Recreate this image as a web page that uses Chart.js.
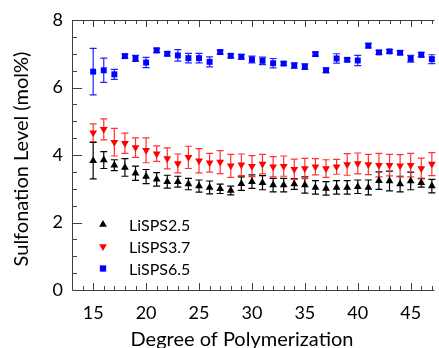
<!DOCTYPE html>
<html>
<head>
<meta charset="utf-8">
<script src="https://cdn.jsdelivr.net/npm/chart.js@4.4.0/dist/chart.umd.min.js"></script>
<style>
  html, body { margin: 0; padding: 0; background: #fff; }
  #wrap { width: 439px; height: 348px; }
</style>
</head>
<body>
<div id="wrap"><canvas id="chart" width="439" height="348"></canvas></div>
<script>
// degree of polymerization
const dp = [15, 16, 17, 18, 19, 20, 21, 22, 23, 24, 25, 26, 27, 28, 29, 30, 31,
            32, 33, 34, 35, 36, 37, 38, 39, 40, 41, 42, 43, 44, 45, 46, 47];

// sulfonation level (mol%) and error
const sps25 = [3.83, 3.85, 3.70, 3.63, 3.46, 3.36, 3.28, 3.21, 3.21, 3.14, 3.08, 3.04, 3.00, 2.95, 3.15,
               3.21, 3.18, 3.11, 3.11, 3.14, 3.11, 3.04, 3.01, 3.04, 3.04, 3.06, 3.04, 3.24, 3.23, 3.14, 3.23, 3.18, 3.08];
const sps25Err = [0.54, 0.25, 0.16, 0.26, 0.21, 0.21, 0.20, 0.19, 0.16, 0.17, 0.18, 0.19, 0.14, 0.13, 0.20,
                  0.20, 0.21, 0.20, 0.20, 0.16, 0.24, 0.20, 0.20, 0.20, 0.20, 0.20, 0.22, 0.26, 0.29, 0.23, 0.26, 0.13, 0.20];

const sps37 = [4.66, 4.76, 4.38, 4.35, 4.22, 4.14, 4.04, 3.90, 3.75, 3.93, 3.83, 3.77, 3.79, 3.68, 3.71,
               3.67, 3.73, 3.65, 3.67, 3.58, 3.60, 3.65, 3.60, 3.65, 3.72, 3.75, 3.72, 3.70, 3.70, 3.68, 3.70, 3.60, 3.73];
const sps37Err = [0.26, 0.31, 0.41, 0.30, 0.29, 0.37, 0.23, 0.31, 0.28, 0.33, 0.36, 0.28, 0.34, 0.34, 0.32,
                  0.31, 0.29, 0.30, 0.30, 0.30, 0.30, 0.24, 0.26, 0.22, 0.32, 0.31, 0.30, 0.35, 0.32, 0.33, 0.35, 0.31, 0.34];

const sps65 = [6.47, 6.51, 6.39, 6.93, 6.86, 6.74, 7.10, 7.00, 6.95, 6.87, 6.87, 6.76, 7.05, 6.94, 6.91,
               6.83, 6.79, 6.72, 6.71, 6.65, 6.62, 6.99, 6.51, 6.86, 6.82, 6.80, 7.24, 7.04, 7.07, 7.03, 6.85, 6.97, 6.84];
const sps65Err = [0.69, 0.36, 0.15, 0.06, 0.09, 0.15, 0.065, 0.06, 0.17, 0.14, 0.14, 0.15, 0.06, 0.06, 0.07,
                  0.10, 0.11, 0.14, 0.05, 0.08, 0.08, 0.06, 0.07, 0.14, 0.05, 0.15, 0.07, 0.06, 0.05, 0.06, 0.10, 0.07, 0.13];

const xTicks = [15, 20, 25, 30, 35, 40, 45];
const yTicks = [0, 2, 4, 6, 8];
const xTitle = 'Degree of Polymerization';
const yTitle = 'Sulfonation Level (mol%)';

const FONT = 'Lato, "Open Sans", sans-serif';
const AXIS = '#404040';

function pts(ys, errs) {
  return dp.map((x, i) => ({ x: x, y: ys[i], err: errs[i] }));
}

function marker(ctx, style, x, y, r) {
  ctx.beginPath();
  if (style === 'up') {
    ctx.moveTo(x, y - r);
    ctx.lineTo(x + r * 0.866, y + r * 0.5);
    ctx.lineTo(x - r * 0.866, y + r * 0.5);
  } else if (style === 'down') {
    ctx.moveTo(x, y + r);
    ctx.lineTo(x + r * 0.866, y - r * 0.5);
    ctx.lineTo(x - r * 0.866, y - r * 0.5);
  } else {
    ctx.rect(x - r * 0.7, y - r * 0.7, r * 1.4, r * 1.4);
  }
  ctx.closePath();
  ctx.fill();
}

const errorBars = {
  id: 'errorBars',
  beforeDatasetsDraw(chart) {
    const ctx = chart.ctx;
    const xs = chart.scales.x, ys = chart.scales.y;
    ctx.save();
    chart.data.datasets.forEach(ds => {
      ctx.strokeStyle = ds.barColor;
      ctx.lineWidth = 1.2;
      ds.data.forEach(p => {
        const px = xs.getPixelForValue(p.x);
        const top = ys.getPixelForValue(p.y + p.err);
        const bot = ys.getPixelForValue(p.y - p.err);
        ctx.beginPath();
        ctx.moveTo(px, top); ctx.lineTo(px, bot);
        ctx.moveTo(px - 3.5, top); ctx.lineTo(px + 3.5, top);
        ctx.moveTo(px - 3.5, bot); ctx.lineTo(px + 3.5, bot);
        ctx.stroke();
      });
    });
    ctx.restore();
  }
};

const frame = {
  id: 'frame',
  afterDraw(chart) {
    const ctx = chart.ctx;
    const a = chart.chartArea;
    const xs = chart.scales.x, ys = chart.scales.y;
    ctx.save();
    ctx.strokeStyle = AXIS;
    ctx.lineWidth = 1;
    ctx.beginPath();
    ctx.moveTo(a.left + 0.5, a.top + 0.5);
    ctx.lineTo(a.left + 0.5, a.bottom + 0.5);
    ctx.lineTo(a.right, a.bottom + 0.5);
    ctx.moveTo(a.left, a.top + 0.5);
    ctx.lineTo(a.right, a.top + 0.5);
    // x ticks, inward on bottom and top
    for (let v = 14; v <= 47; v++) {
      const px = Math.round(xs.getPixelForValue(v)) + 0.5;
      const len = v % 5 === 0 ? 7 : 4;
      ctx.moveTo(px, a.bottom); ctx.lineTo(px, a.bottom - len);
      ctx.moveTo(px, a.top); ctx.lineTo(px, a.top + len);
    }
    // y ticks, inward
    for (let v = 0.5; v < 8; v += 0.5) {
      const py = Math.round(ys.getPixelForValue(v)) + 0.5;
      const len = v % 2 === 0 ? 10 : 5;
      ctx.moveTo(a.left, py); ctx.lineTo(a.left + len, py);
    }
    ctx.stroke();

    // axis titles
    ctx.fillStyle = '#000';
    ctx.font = '20px ' + FONT;
    ctx.textAlign = 'center';
    ctx.textBaseline = 'alphabetic';
    ctx.fillText(xTitle, 242, 346);
    ctx.save();
    ctx.translate(28, 159);
    ctx.rotate(-Math.PI / 2);
    ctx.fillText(yTitle, 0, 0);
    ctx.restore();

    // legend inside the plot
    ctx.font = '16px ' + FONT;
    ctx.textAlign = 'left';
    ctx.textBaseline = 'middle';
    chart.data.datasets.forEach((ds, i) => {
      const y = 224.5 + i * 22;
      ctx.fillStyle = ds.backgroundColor;
      marker(ctx, ds.shape, 103, y, 4.5);
      ctx.fillStyle = '#000';
      ctx.fillText(ds.label, 129, y + 1);
    });
    ctx.restore();
  }
};

new Chart(document.getElementById('chart'), {
  type: 'scatter',
  data: {
    datasets: [
      { label: 'LiSPS2.5', data: pts(sps25, sps25Err), shape: 'up',
        backgroundColor: '#000000', borderColor: '#000000', barColor: '#000000',
        pointStyle: 'triangle', pointRadius: 4.5, borderWidth: 0 },
      { label: 'LiSPS3.7', data: pts(sps37, sps37Err), shape: 'down',
        backgroundColor: '#ff0000', borderColor: '#ff0000', barColor: '#ff3333',
        pointStyle: 'triangle', rotation: 180, pointRadius: 4.5, borderWidth: 0 },
      { label: 'LiSPS6.5', data: pts(sps65, sps65Err), shape: 'rect',
        backgroundColor: '#0000ff', borderColor: '#0000ff', barColor: '#2222ff',
        pointStyle: 'rect', pointRadius: 4.2, borderWidth: 0 }
    ]
  },
  options: {
    responsive: false,
    animation: false,
    clip: false,
    layout: { padding: { top: 20, left: 0, right: 0, bottom: 0 } },
    plugins: { legend: { display: false }, tooltip: { enabled: false } },
    scales: {
      x: {
        type: 'linear', min: 13, max: 47.25,
        grid: { display: false, drawTicks: false },
        border: { display: false },
        afterBuildTicks: s => { s.ticks = xTicks.map(v => ({ value: v })); },
        afterFit: s => { s.height = 58; },
        ticks: { color: '#000', padding: 12, font: { family: FONT, size: 18 } },
        title: { display: false }
      },
      y: {
        min: 0, max: 8,
        grid: { display: false, drawTicks: false },
        border: { display: false },
        afterBuildTicks: s => { s.ticks = yTicks.map(v => ({ value: v })); },
        afterFit: s => { s.width = 72; },
        ticks: { color: '#000', padding: 9, font: { family: FONT, size: 18 } },
        title: { display: false }
      }
    }
  },
  plugins: [errorBars, frame]
});
</script>
</body>
</html>
